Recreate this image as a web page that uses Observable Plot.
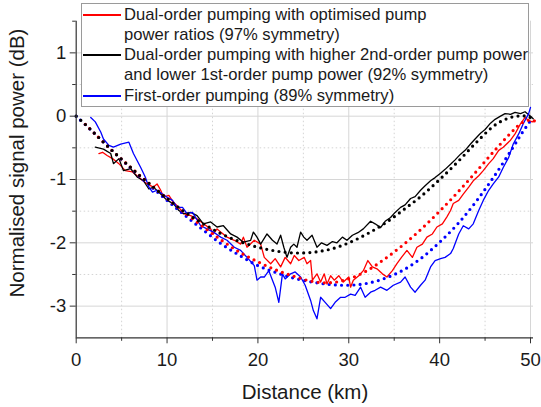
<!DOCTYPE html>
<html>
<head>
<meta charset="utf-8">
<script src="https://cdn.jsdelivr.net/npm/d3@7"></script>
<script src="https://cdn.jsdelivr.net/npm/@observablehq/plot@0.6"></script>
<style>
  html, body { margin: 0; padding: 0; background: #fff; }
  #wrap { position: relative; width: 541px; height: 407px; font-family: "Liberation Sans", Arial, sans-serif; color: #1a1a1a; }
  #legend { position: absolute; left: 81px; top: 3px; width: 446px; height: 102px; border: 1px solid #9a9a9a; background: #fff; font-size: 16.6px; }
  .lrow { position: absolute; left: 42px; white-space: nowrap; line-height: 20px; height: 20px; }
  .lline { position: absolute; left: 1px; width: 38px; height: 0; border-top: 2px solid; }
  .ytitle { position: absolute; left: 17px; top: 163px; transform: translate(-50%, -50%) rotate(-90deg); white-space: nowrap; font-size: 20.5px; }
  .xtitle { position: absolute; left: 305px; top: 392px; transform: translate(-50%, -50%); white-space: nowrap; font-size: 20.5px; }
</style>
</head>
<body>
<div id="wrap"></div>
<script>
// ---- data (distance in km, normalised signal power in dB) ----
const seriesNames = [
  ["Dual-order pumping with optimised pump", "power ratios (97% symmetry)"],
  ["Dual-order pumping with higher 2nd-order pump power", "and lower 1st-order pump power (92% symmetry)"],
  ["First-order pumping (89% symmetry)"]
];
const seriesColors = ["#ff0000", "#000000", "#0000ff"];

const xTicks = [0, 10, 20, 30, 40, 50];
const xMinor = [5, 15, 25, 35, 45];
const yTicks = [-3, -2, -1, 0, 1];
const yMinor = [-2.5, -1.5, -0.5, 0.5, 1.5];

const redKm = [2.5,2.9,3.4,4.0,4.7,5.4,6.2,7.1,7.8,8.5,8.9,9.3,9.6,10.2,10.7,11.3,11.8,12.6,13.3,14.0,14.8,15.1,15.5,15.9,16.6,17.4,18.1,18.4,18.8,19.6,20.3,20.7,21.4,21.9,22.5,23.0,23.6,24.0,24.5,25.1,25.4,25.8,26.0,26.5,26.9,27.3,27.6,28.0,28.4,28.9,29.4,30.0,30.2,30.5,31.1,31.6,32.1,32.6,33.1,33.7,34.2,34.8,35.3,35.8,36.4,37.0,37.5,38.1,38.6,39.2,39.7,40.3,40.8,41.2,41.5,42.1,42.6,43.2,43.7,44.3,44.8,45.4,45.9,46.5,47.0,47.8,48.3,48.9,49.4,49.8,50.2,50.5];
const redDb = [-0.59,-0.57,-0.62,-0.67,-0.75,-0.86,-0.88,-0.99,-1.07,-1.12,-1.07,-1.17,-1.28,-1.25,-1.36,-1.44,-1.54,-1.57,-1.62,-1.70,-1.78,-1.86,-1.78,-1.83,-1.91,-1.96,-2.02,-1.91,-2.07,-1.96,-2.02,-2.23,-2.33,-2.25,-2.38,-2.23,-2.33,-2.20,-2.28,-2.23,-2.33,-2.28,-2.59,-2.49,-2.62,-2.49,-2.65,-2.52,-2.59,-2.52,-2.62,-2.54,-2.70,-2.59,-2.52,-2.44,-2.28,-2.38,-2.41,-2.49,-2.54,-2.44,-2.33,-2.23,-2.12,-2.23,-2.07,-2.02,-1.91,-1.86,-1.75,-1.70,-1.59,-1.49,-1.38,-1.33,-1.23,-1.12,-1.02,-0.94,-0.86,-0.75,-0.67,-0.54,-0.49,-0.38,-0.28,-0.12,-0.02,-0.07,-0.09,-0.07];

const blackKm = [2.1,3.0,3.8,4.1,4.7,5.2,6.0,6.7,7.4,8.0,8.5,9.3,10.0,10.7,11.3,11.8,12.6,13.3,14.0,14.8,15.5,16.2,17.0,17.7,18.4,19.2,19.5,19.9,20.3,21.0,21.6,22.1,22.5,22.85,23.2,23.6,23.95,24.3,24.7,25.05,25.4,25.96,26.5,27.0,27.6,28.2,28.7,29.3,29.8,30.4,31.0,31.6,32.4,32.9,33.5,34.0,34.6,35.1,35.7,36.2,36.8,37.3,37.9,38.4,39.0,39.5,40.1,40.6,41.2,41.7,42.3,42.8,43.4,43.9,44.5,45.0,45.6,46.1,46.7,47.2,47.8,48.3,48.9,49.4,50.0,50.3];
const blackDb = [-0.49,-0.52,-0.59,-0.75,-0.67,-0.86,-0.83,-0.96,-1.02,-1.15,-1.12,-1.23,-1.33,-1.38,-1.49,-1.54,-1.52,-1.57,-1.70,-1.67,-1.75,-1.73,-1.86,-1.91,-1.99,-1.96,-1.83,-1.91,-2.02,-1.86,-1.96,-2.02,-1.88,-2.07,-2.23,-2.07,-2.02,-2.07,-1.83,-1.91,-1.96,-1.88,-2.07,-2.00,-2.04,-1.98,-2.00,-1.91,-1.96,-1.88,-1.84,-1.78,-1.66,-1.70,-1.76,-1.66,-1.60,-1.52,-1.44,-1.40,-1.30,-1.27,-1.17,-1.10,-1.02,-0.97,-0.90,-0.84,-0.76,-0.69,-0.60,-0.54,-0.44,-0.36,-0.27,-0.21,-0.11,-0.05,0.0,0.04,0.03,0.06,0.04,0.07,0.0,-0.04];

const blueKm = [1.6,2.1,2.7,3.0,3.6,4.1,4.9,5.8,6.3,7.1,7.6,8.0,8.4,8.9,9.5,10.0,10.6,11.1,11.7,12.2,12.8,13.1,13.7,14.4,15.1,15.9,16.6,17.4,18.1,18.8,19.6,19.9,20.3,20.7,21.2,21.6,21.9,22.3,22.7,23.0,23.6,24.1,24.7,25.2,25.8,26.1,26.5,26.9,27.4,28.0,28.5,29.1,29.6,30.2,30.7,31.3,31.8,32.4,32.9,33.5,34.2,34.9,35.7,36.2,36.8,37.3,37.9,38.4,39.0,39.5,40.1,40.6,41.2,41.5,42.1,42.6,43.2,43.7,44.3,44.8,45.4,45.9,46.5,47.0,47.6,48.1,48.7,49.2,49.8,50.0];
const blueDb = [-0.02,-0.09,-0.25,-0.36,-0.46,-0.49,-0.44,-0.41,-0.59,-0.81,-0.96,-1.12,-1.20,-1.17,-1.23,-1.28,-1.33,-1.44,-1.44,-1.54,-1.52,-1.59,-1.73,-1.78,-1.83,-1.91,-1.96,-2.07,-2.12,-2.23,-2.36,-2.59,-2.54,-2.54,-2.44,-2.59,-2.70,-2.94,-2.49,-2.57,-2.49,-2.46,-2.54,-2.67,-2.91,-3.07,-3.20,-2.86,-2.94,-3.04,-2.94,-2.86,-2.86,-2.81,-2.83,-2.70,-2.86,-2.78,-2.75,-2.70,-2.75,-2.67,-2.62,-2.54,-2.70,-2.78,-2.67,-2.59,-2.38,-2.28,-2.25,-2.23,-2.17,-2.09,-1.86,-1.73,-1.78,-1.70,-1.49,-1.33,-1.17,-1.07,-0.96,-0.81,-0.65,-0.44,-0.28,-0.12,0.04,0.14];

// fitted (dotted) curves
const redFitKm = [1,2,4,6,8,10,12,14,16,18,20,22,24,26,28,30,32,34,36,38,40,42,44,46,48,49,50,50.5];
const redFitDb = [-0.13,-0.27,-0.55,-0.81,-1.06,-1.30,-1.53,-1.75,-1.96,-2.15,-2.30,-2.43,-2.53,-2.61,-2.63,-2.57,-2.44,-2.25,-2.03,-1.78,-1.50,-1.20,-0.88,-0.55,-0.24,-0.11,-0.06,-0.08];
const blackFitKm = [0,1,2,3,4,5,6,7,8,10,12,14,16,18,20,22,24,26,28,30,32,34,36,38,40,42,44,46,47.4,48.5,49.5,50.5];
const blackFitDb = [0,-0.13,-0.27,-0.41,-0.55,-0.68,-0.81,-0.94,-1.06,-1.30,-1.52,-1.70,-1.86,-1.98,-2.07,-2.13,-2.16,-2.15,-2.10,-2.00,-1.86,-1.69,-1.48,-1.26,-1.00,-0.72,-0.42,-0.15,-0.04,0.0,0.0,-0.05];
const blueFitKm = [0,2,4,6,8,10,12,14,16,18,20,22,24,26,28,30,32,34,36,38,40,42,44,46,48,49,50];
const blueFitDb = [0,-0.27,-0.55,-0.82,-1.08,-1.33,-1.57,-1.80,-2.02,-2.20,-2.36,-2.47,-2.56,-2.62,-2.66,-2.67,-2.64,-2.56,-2.43,-2.24,-1.99,-1.70,-1.35,-0.95,-0.51,-0.28,-0.07];

const toRows = (xs, ys) => xs.map((x, i) => ({km: x, db: ys[i]}));
const redRows = toRows(redKm, redDb);
const blackRows = toRows(blackKm, blackDb);
const blueRows = toRows(blueKm, blueDb);
const redFit = toRows(redFitKm, redFitDb);
const blackFit = toRows(blackFitKm, blackFitDb);
const blueFit = toRows(blueFitKm, blueFitDb);

const dotted = {x: "km", y: "db", strokeWidth: 3.2, strokeDasharray: "0 6.2", strokeLinecap: "round", curve: "catmull-rom"};
const solid = {x: "km", y: "db", strokeWidth: 1.3, strokeLinejoin: "round"};

const chart = Plot.plot({
  width: 541,
  height: 407,
  marginLeft: 75.7,
  marginRight: 8,
  marginTop: 20.7,
  marginBottom: 69.7,
  style: {fontFamily: "Liberation Sans, Arial, sans-serif", fontSize: "18.5px", color: "#1a1a1a", background: "#fff"},
  x: {domain: [0, 50.33]},
  y: {domain: [-3.5, 1.5]},
  marks: [
    Plot.ruleX(xMinor, {stroke: "#d4d4d4", strokeDasharray: "1.5 2.5"}),
    Plot.ruleY(yMinor.filter(v => v < 1.5), {stroke: "#d4d4d4", strokeDasharray: "1.5 2.5"}),
    Plot.ruleX(xTicks.filter(v => v > 0), {stroke: "#d6d6d6", strokeWidth: 1}),
    Plot.ruleY(yTicks, {stroke: "#d6d6d6", strokeWidth: 1}),
    Plot.line(redRows, {...solid, stroke: seriesColors[0]}),
    Plot.line(blackRows, {...solid, stroke: seriesColors[1]}),
    Plot.line(blueRows, {...solid, stroke: seriesColors[2]}),
    Plot.line(blueFit, {...dotted, stroke: seriesColors[2]}),
    Plot.line(redFit, {...dotted, stroke: seriesColors[0]}),
    Plot.line(blackFit, {...dotted, stroke: seriesColors[1]}),
    Plot.axisX({ticks: xTicks, tickSize: 6, tickPadding: 9, label: null, stroke: "#333", tickFormat: d => String(d)}),
    Plot.axisX({ticks: xMinor, tickSize: 3.5, label: null, stroke: "#333", tickFormat: () => ""}),
    Plot.axisY({ticks: yTicks, tickSize: 6, tickPadding: 4, label: null, stroke: "#333", tickFormat: d => String(d)}),
    Plot.axisY({ticks: yMinor, tickSize: 3.5, label: null, stroke: "#333", tickFormat: () => ""}),
    Plot.ruleX([0], {stroke: "#333", strokeWidth: 1.2}),
    Plot.ruleY([-3.5], {stroke: "#333", strokeWidth: 1.2})
  ]
});

const wrap = document.getElementById("wrap");
wrap.appendChild(chart);

// axis titles
const yt = document.createElement("div");
yt.className = "ytitle";
yt.textContent = "Normalised signal power (dB)";
wrap.appendChild(yt);
const xt = document.createElement("div");
xt.className = "xtitle";
xt.textContent = "Distance (km)";
wrap.appendChild(xt);

// legend
const legend = document.createElement("div");
legend.id = "legend";
const rowTop = [1, 21, 41, 61, 81.5];
let r = 0;
seriesNames.forEach((lines, i) => {
  const ln = document.createElement("div");
  ln.className = "lline";
  ln.style.borderColor = seriesColors[i];
  ln.style.top = (rowTop[r] + 9) + "px";
  legend.appendChild(ln);
  lines.forEach(t => {
    const d = document.createElement("div");
    d.className = "lrow";
    d.style.top = rowTop[r] + "px";
    d.textContent = t;
    legend.appendChild(d);
    r++;
  });
});
wrap.appendChild(legend);
</script>
</body>
</html>
